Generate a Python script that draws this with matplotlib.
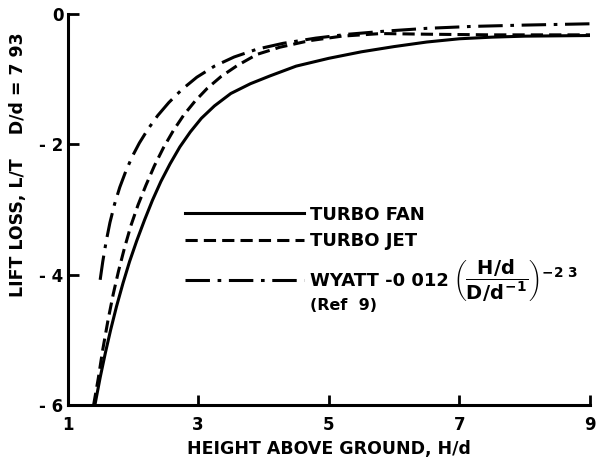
import matplotlib
matplotlib.use("Agg")
import matplotlib.pyplot as plt

plt.rcParams['font.family'] = ['DejaVu Sans']
plt.rcParams['font.weight'] = 'bold'
plt.rcParams['mathtext.fontset'] = 'custom'
plt.rcParams['mathtext.rm'] = 'DejaVu Sans:bold'
plt.rcParams['mathtext.it'] = 'DejaVu Sans:bold'
plt.rcParams['mathtext.bf'] = 'DejaVu Sans:bold'

# --- values (D/d = 7.93) ---
fan_x = [1.42, 1.50, 1.58, 1.66, 1.75, 1.85, 1.95, 2.06, 2.18, 2.30, 2.43, 2.57,
         2.72, 2.88, 3.05, 3.25, 3.50, 3.80, 4.10, 4.50, 5.00, 5.50, 6.00, 6.50,
         7.00, 7.50, 8.00, 8.50, 9.00]
fan_y = [-6.00, -5.58, -5.20, -4.85, -4.49, -4.13, -3.80, -3.48, -3.16, -2.86, -2.57, -2.30,
         -2.04, -1.81, -1.60, -1.41, -1.22, -1.07, -0.95, -0.80, -0.68, -0.58, -0.50, -0.43,
         -0.38, -0.355, -0.34, -0.335, -0.33]

jet_x = [1.40, 1.47, 1.54, 1.62, 1.70, 1.78, 1.87, 1.97, 2.08, 2.20, 2.33, 2.47,
         2.62, 2.78, 2.95, 3.14, 3.35, 3.60, 3.90, 4.25, 4.70, 5.20, 5.80, 6.50,
         7.50, 9.00]
jet_y = [-6.00, -5.60, -5.15, -4.70, -4.30, -3.95, -3.60, -3.25, -2.93, -2.63, -2.33, -2.05,
         -1.79, -1.55, -1.34, -1.14, -0.96, -0.79, -0.62, -0.51, -0.41, -0.34, -0.30, -0.31,
         -0.32, -0.32]

wyatt_x = [1.50, 1.54, 1.59, 1.65, 1.72, 1.80, 1.89, 1.99, 2.10, 2.23, 2.38, 2.55,
           2.75, 2.98, 3.25, 3.55, 3.90, 4.30, 4.80, 5.30, 5.90, 6.50, 7.20, 8.00, 9.00]
wyatt_y = [-4.08, -3.80, -3.50, -3.20, -2.92, -2.66, -2.42, -2.19, -1.98, -1.77, -1.56, -1.36,
           -1.16, -0.97, -0.80, -0.66, -0.54, -0.45, -0.37, -0.31, -0.26, -0.22, -0.19, -0.17, -0.15]

x_ticks = [1, 3, 5, 7, 9]
y_ticks = [0, -2, -4, -6]
y_ticklabels = ["0", "- 2", "- 4", "- 6"]

fig = plt.figure(figsize=(6, 4.67), dpi=100)
ax = fig.add_axes([0.1125, 0.133, 0.871, 0.837])

lw = 2.2
fan, = ax.plot(fan_x, fan_y, color='black', lw=lw, label="TURBO FAN")
jet, = ax.plot(jet_x, jet_y, color='black', lw=lw, dashes=(4, 2), label="TURBO JET")
wy, = ax.plot(wyatt_x, wyatt_y, color='black', lw=lw, dashes=(8, 2.5, 1.2, 2.5),
              label="WYATT -0 012")

ax.set_xlim(1, 9)
ax.set_ylim(-6, 0)
ax.set_xticks(x_ticks)
ax.set_xticklabels([str(t) for t in x_ticks])
ax.set_yticks(y_ticks)
ax.set_yticklabels(y_ticklabels)

for s in ['top', 'right']:
    ax.spines[s].set_visible(False)
for s in ['left', 'bottom']:
    ax.spines[s].set_linewidth(2.2)
ax.tick_params(axis='both', direction='in', width=2, labelsize=12)
ax.tick_params(axis='y', length=8, pad=3)
ax.tick_params(axis='x', length=7, pad=8)

ax.set_xlabel("HEIGHT ABOVE GROUND, H/d", fontsize=12.5, fontweight='bold', labelpad=4)
fig.text(0.03, 0.647, "LIFT LOSS, L/T    D/d = 7 93", rotation=90, fontsize=12.5,
         fontweight='bold', ha='center', va='center')

leg_kw = dict(loc='center left', frameon=False, fontsize=13, handlelength=6.6,
              handletextpad=0.3, borderpad=0, borderaxespad=0, labelspacing=0.45)
leg1 = ax.legend(handles=[fan, jet], bbox_to_anchor=(0.225, 0.453), **leg_kw)
ax.add_artist(leg1)
leg2 = ax.legend(handles=[wy], bbox_to_anchor=(0.225, 0.317), **leg_kw)

ax.text(0.738, 0.317, r"$\left(\dfrac{H/d}{D/d^{-1}}\right)^{-2\ 3}$",
        transform=ax.transAxes, fontsize=14, ha='left', va='center')
ax.text(0.464, 0.253, "(Ref  9)", transform=ax.transAxes, fontsize=11.5,
        fontweight='bold', ha='left', va='center')

fig.savefig("out.png", dpi=100)
